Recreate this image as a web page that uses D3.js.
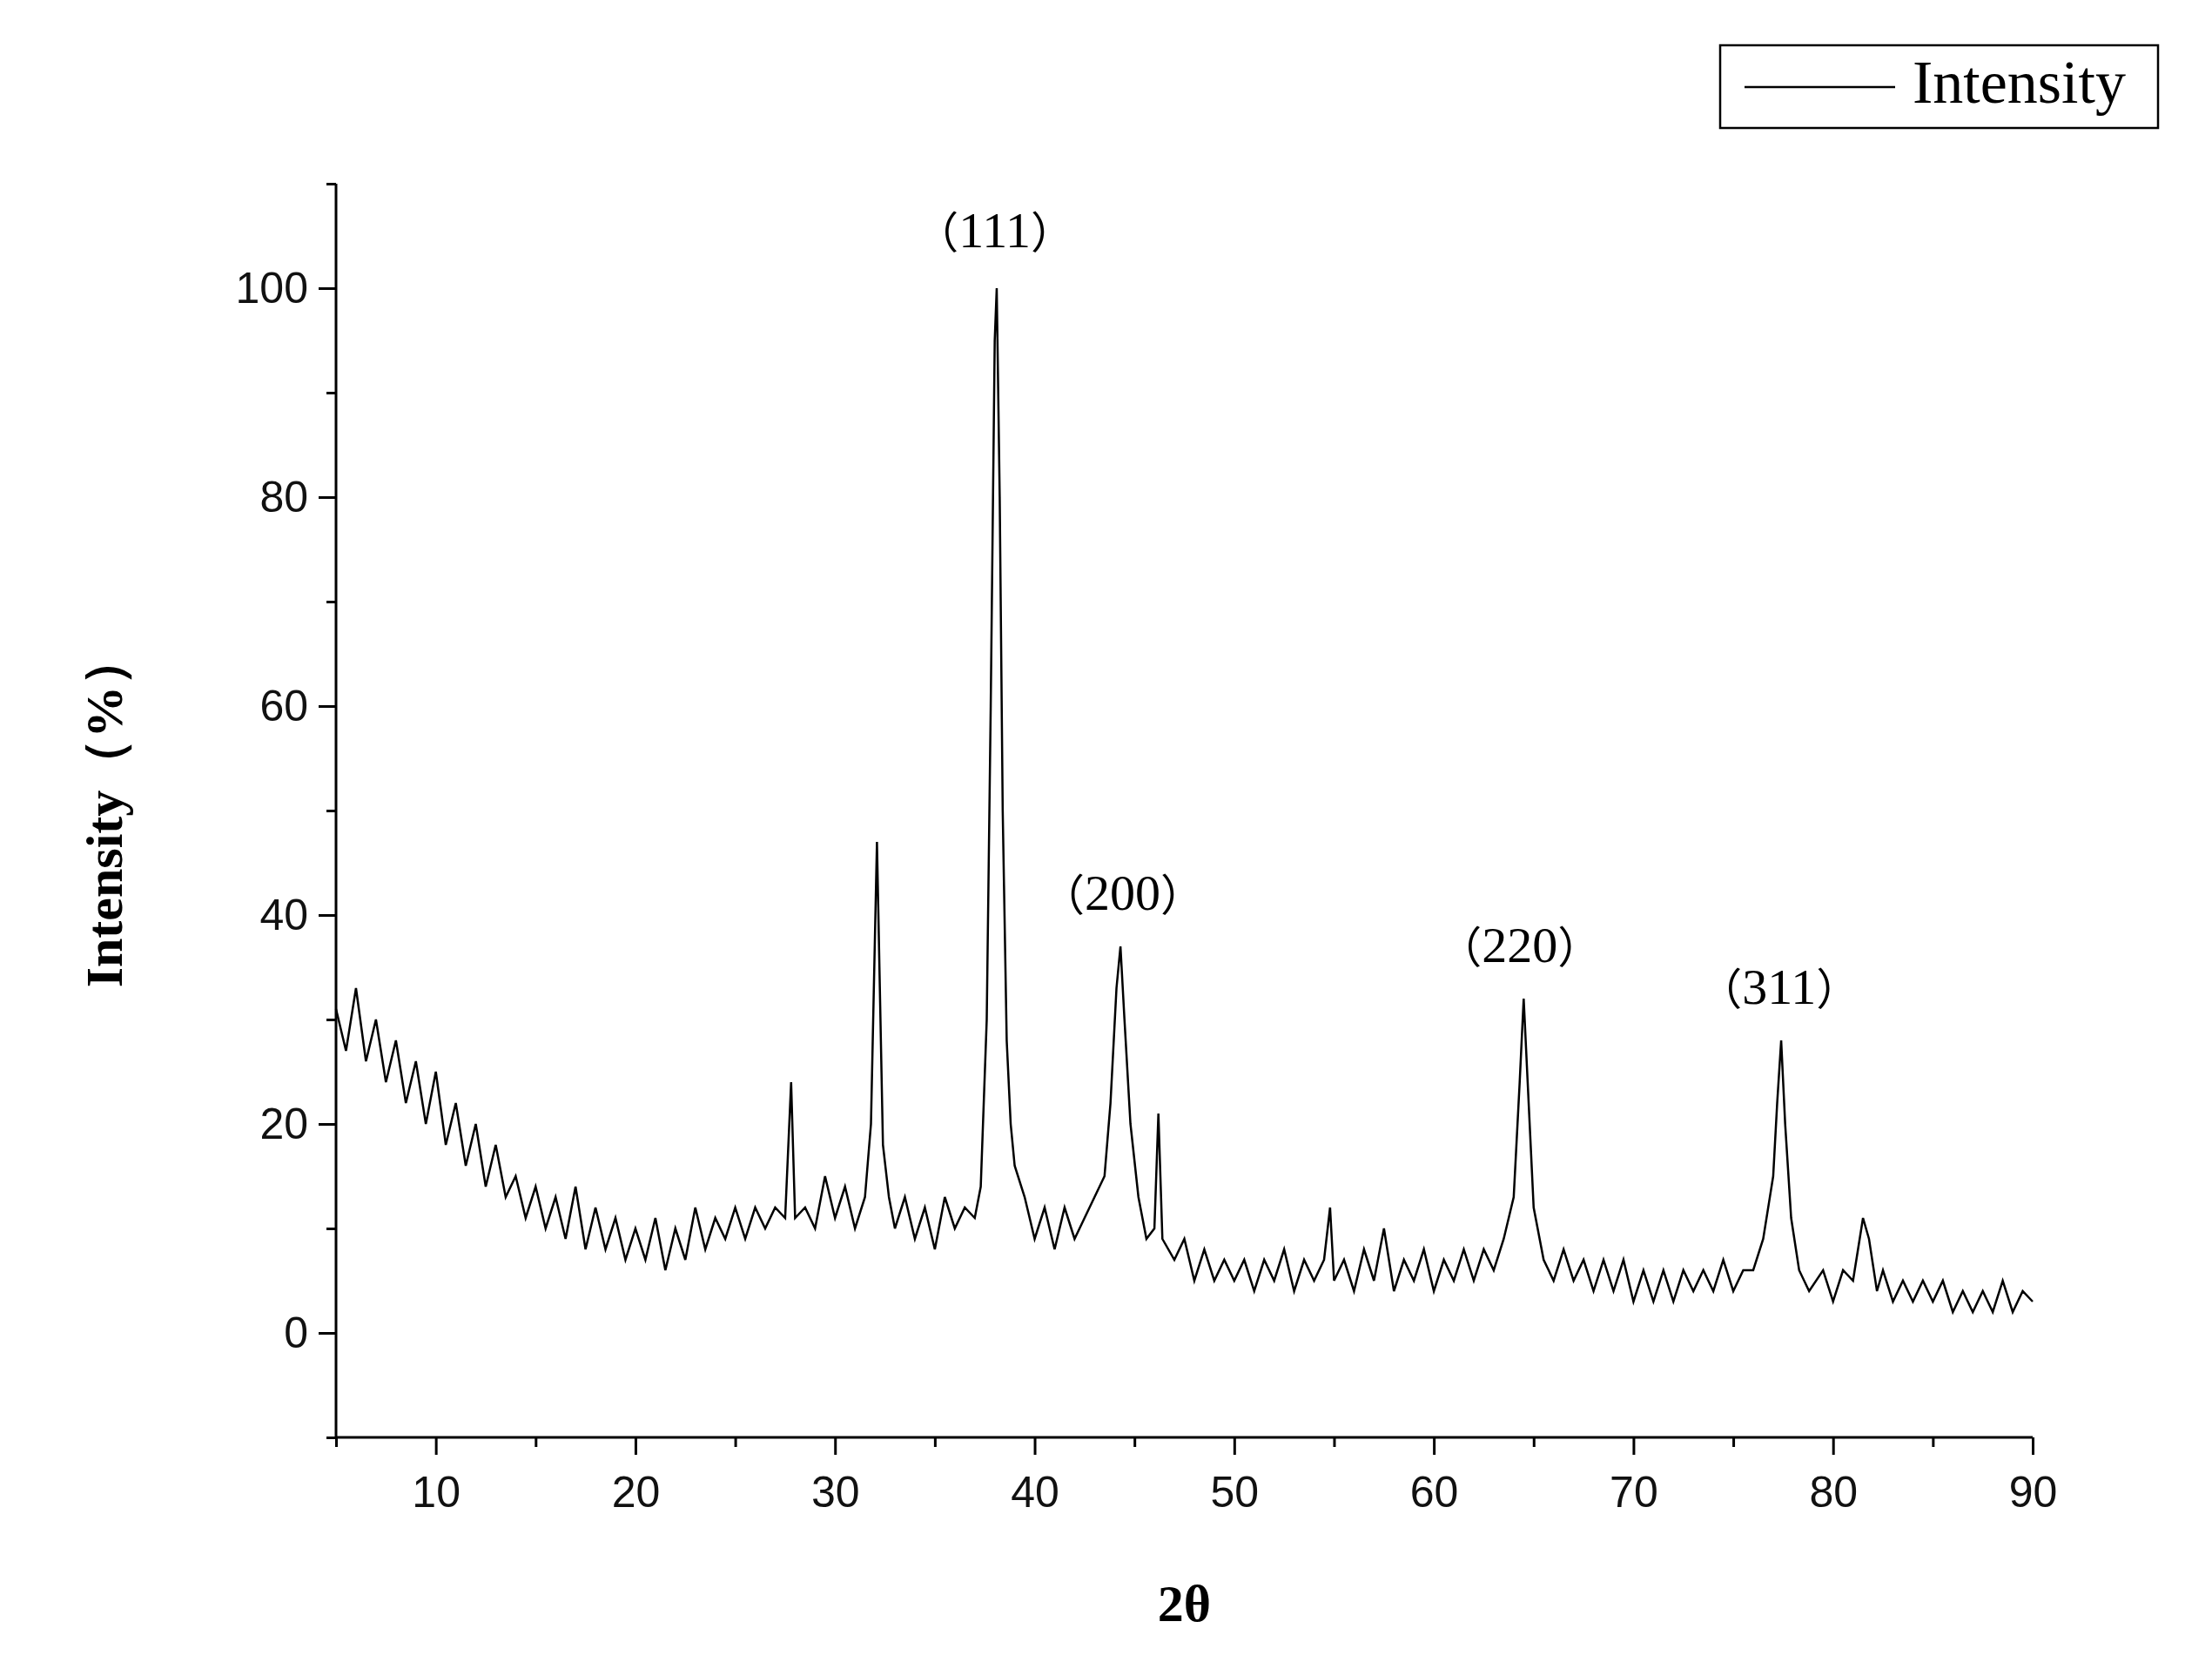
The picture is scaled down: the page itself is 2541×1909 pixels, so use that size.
<!DOCTYPE html>
<html><head><meta charset="utf-8">
<script src="https://cdn.jsdelivr.net/npm/d3@7/dist/d3.min.js"></script>
<style>body{margin:0;background:#fff}</style></head>
<body><svg id="c" width="2541" height="1909"></svg>
<script>
const xTicks=[10,20,30,40,50,60,70,80,90];
const yTicks=[0,20,40,60,80,100];
const seriesName="Intensity";
const twoTheta=[5,5.5,6,6.5,7,7.5,8,8.5,9,9.5,10,10.5,11,11.5,12,12.5,13,13.5,14,14.5,15,15.5,16,16.5,17,17.5,18,18.5,19,19.5,20,20.5,21,21.5,22,22.5,23,23.5,24,24.5,25,25.5,26,26.5,27,27.5,27.8,28,28.5,29,29.5,30,30.5,31,31.5,31.8,32.1,32.4,32.7,33,33.5,34,34.5,35,35.5,36,36.5,37,37.3,37.6,37.8,38.0,38.1,38.25,38.4,38.6,38.8,39,39.5,40,40.5,41,41.5,42,42.5,43,43.5,43.8,44.1,44.3,44.5,44.8,45.2,45.6,46.0,46.2,46.4,47,47.5,48,48.5,49,49.5,50,50.5,51,51.5,52,52.5,53,53.5,54,54.5,54.8,55,55.5,56,56.5,57,57.5,58,58.5,59,59.5,60,60.5,61,61.5,62,62.5,63,63.5,64,64.3,64.5,64.7,65,65.5,66,66.5,67,67.5,68,68.5,69,69.5,70,70.5,71,71.5,72,72.5,73,73.5,74,74.5,75,75.5,76,76.5,77,77.2,77.4,77.6,77.9,78.3,78.8,79.5,80,80.5,81,81.5,81.8,82.2,82.5,83,83.5,84,84.5,85,85.5,86,86.5,87,87.5,88,88.5,89,89.5,90];
const intensity=[31,27,33,26,30,24,28,22,26,20,25,18,22,16,20,14,18,13,15,11,14,10,13,9,14,8,12,8,11,7,10,7,11,6,10,7,12,8,11,9,12,9,12,10,12,11,24,11,12,10,15,11,14,10,13,20,47,18,13,10,13,9,12,8,13,10,12,11,14,30,60,95,100,80,50,28,20,16,13,9,12,8,12,9,11,13,15,22,33,37,30,20,13,9,10,21,9,7,9,5,8,5,7,5,7,4,7,5,8,4,7,5,7,12,5,7,4,8,5,10,4,7,5,8,4,7,5,8,5,8,6,9,13,24,32,24,12,7,5,8,5,7,4,7,4,7,3,6,3,6,3,6,4,6,4,7,4,6,6,9,15,22,28,20,11,6,4,6,3,6,5,11,9,4,6,3,5,3,5,3,5,2,4,2,4,2,5,2,4,3];
const peakLabels=["111","200","220","311"];
const peakX=[38.0,44.4,64.3,77.3];
const peakY=[105,41.6,36.6,32.6];

const svg=d3.select("#c");
const L=386,R=2335,T=211,B=1651;
const x=d3.scaleLinear().domain([5,90]).range([L,R]);
const y=d3.scaleLinear().domain([-10,110]).range([B,T]);
const g=svg.append("g");
const xa=g.append("g").attr("transform",`translate(0,${B})`)
 .call(d3.axisBottom(x).tickValues(d3.range(5,91,5)).tickSize(14).tickFormat(d=>xTicks.includes(d)?d:""));
xa.selectAll(".tick line").attr("y2",d=>xTicks.includes(d)?20:11);
const ya=g.append("g").attr("transform",`translate(${L},0)`)
 .call(d3.axisLeft(y).tickValues(d3.range(-10,111,10)).tickSize(14).tickFormat(d=>yTicks.includes(d)?d:""));
ya.selectAll(".tick line").attr("x2",d=>yTicks.includes(d)?-20:-11);
[xa,ya].forEach(a=>{a.selectAll("path,line").attr("stroke","#000").attr("stroke-width",3);
 a.selectAll("text").attr("font-family","Liberation Sans, Arial").attr("font-size",50).attr("fill","#111");});
xa.selectAll("text").attr("dy","1.25em");
ya.selectAll("text").attr("dx","-0.3em");
xa.select(".domain").attr("d",`M${L},0H${R}`);
ya.select(".domain").attr("d",`M0,${T}V${B}`);

const data=twoTheta.map((d,i)=>[d,intensity[i]]);
g.append("path").datum(data).attr("fill","none").attr("stroke","#000").attr("stroke-width",2.5)
 .attr("d",d3.line().x(d=>x(d[0])).y(d=>y(d[1])));

peakLabels.forEach((t,i)=>{const tx=g.append("text").attr("x",x(peakX[i])).attr("y",y(peakY[i]))
 .attr("text-anchor","middle").attr("dominant-baseline","middle")
 .attr("font-family","Liberation Serif, Times New Roman").attr("font-size",58);
 tx.append("tspan").attr("font-family","Noto Sans CJK SC").attr("font-size",50).text("（");
 tx.append("tspan").text(t);
 tx.append("tspan").attr("font-family","Noto Sans CJK SC").attr("font-size",50).text("）");});

g.append("text").attr("x",(L+R)/2).attr("y",1862).attr("text-anchor","middle")
 .attr("font-family","Liberation Serif").attr("font-weight","bold").attr("font-size",60).text("2θ");
g.append("text").attr("transform",`translate(140,${y(50)}) rotate(-90)`).attr("text-anchor","middle")
 .attr("font-family","Liberation Serif").attr("font-weight","bold").attr("font-size",60).text("Intensity（%）");

const lg=g.append("g");
lg.append("rect").attr("x",1976).attr("y",52).attr("width",503).attr("height",95).attr("fill","#fff").attr("stroke","#000").attr("stroke-width",2.5);
lg.append("line").attr("x1",2004).attr("x2",2177).attr("y1",100).attr("y2",100).attr("stroke","#000").attr("stroke-width",2.5);
lg.append("text").attr("x",2197).attr("y",102).attr("dominant-baseline","middle")
 .attr("font-family","Liberation Serif").attr("font-size",70).text(seriesName);
</script></body></html>
